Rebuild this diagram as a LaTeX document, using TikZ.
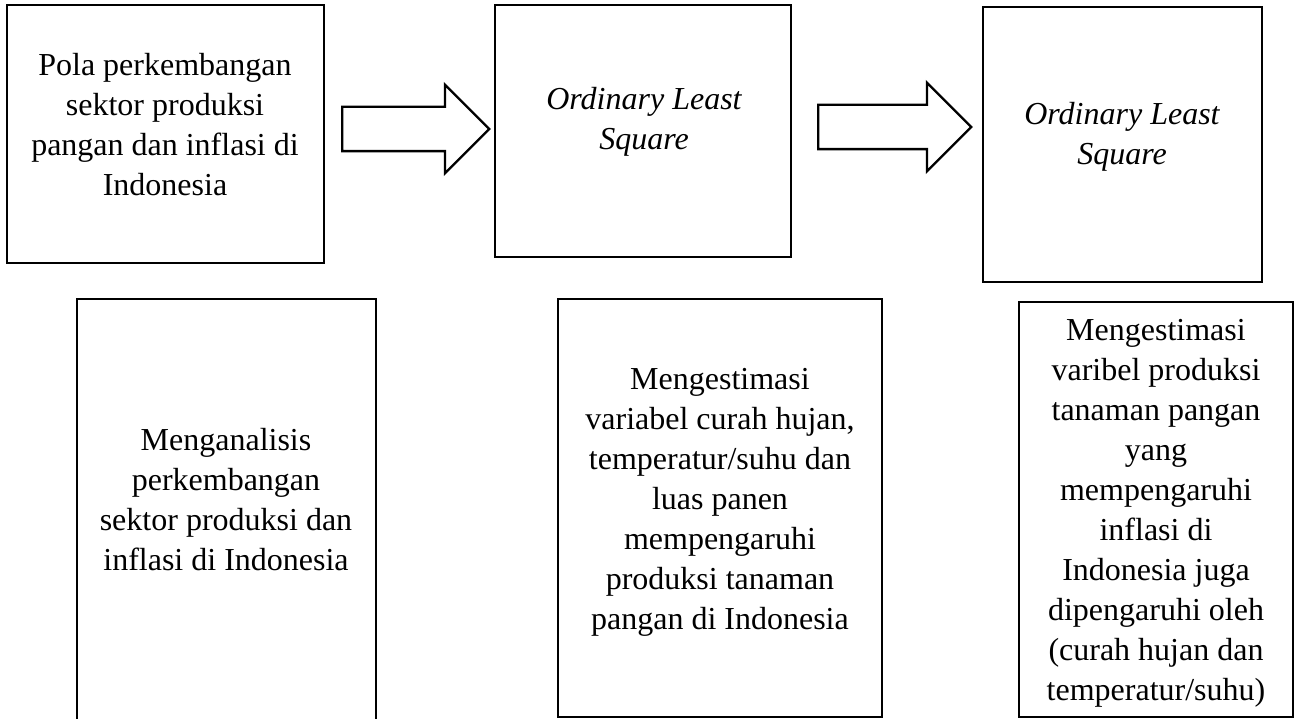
\documentclass[tikz,border=0pt]{standalone}
\usepackage{fontspec}
\setmainfont{Liberation Serif}
\usetikzlibrary{shapes.arrows,positioning}

\begin{document}
\begin{tikzpicture}[
  x=1pt, y=-1pt,
  kotak/.style={draw,line width=2.4pt,inner sep=0pt},
  isi/.style={align=center,inner sep=0pt,font=\fontsize{32}{40}\selectfont},
  panah/.style={draw,line width=2.4pt,single arrow,single arrow head extend=22pt,
    inner xsep=0pt,inner ysep=21pt,anchor=tail}]

\useasboundingbox (0,0) rectangle (1301,719);
\clip (0,0) rectangle (1301,719);

% --- top row: data and methods ---
\node[kotak,minimum width=317pt,minimum height=258pt] (pola) at (165.5,134) {};
\node[isi] (polaT) at (165,125)
  {Pola perkembangan\\sektor produksi\\pangan dan inflasi di\\Indonesia};

\node[kotak,minimum width=296pt,minimum height=252pt] (olsA) at (643,131) {};
\node[isi,font=\fontsize{32}{40}\selectfont\itshape] (olsAT) at (644,122)
  {Ordinary Least\\Square};

\node[kotak,minimum width=279pt,minimum height=275pt] (olsB) at (1122.5,144.5) {};
\node[isi,font=\fontsize{32}{40}\selectfont\itshape] (olsBT) at (1122,137)
  {Ordinary Least\\Square};

% --- block arrows between the top boxes ---
\node[panah,minimum height=147pt] (arrA) at (341,129) {};
\node[panah,minimum height=153pt] (arrB) at (817,127) {};

% --- bottom row: aims ---
\node[kotak,minimum width=299pt,minimum height=460pt] (analisis) at (226.5,529) {};
\node[isi] (analisisT) at (226,500)
  {Menganalisis\\perkembangan\\sektor produksi dan\\inflasi di Indonesia};

\node[kotak,minimum width=324pt,minimum height=418pt] (estimA) at (720,508) {};
\node[isi] (estimAT) at (720,502)
  {Mengestimasi\\variabel curah hujan,\\temperatur/suhu dan\\luas panen\\mempengaruhi\\produksi tanaman\\pangan di Indonesia};

\node[kotak,minimum width=274pt,minimum height=415pt] (estimB) at (1156,509.5) {};
\node[isi] (estimBT) at (1156,513)
  {Mengestimasi\\varibel produksi\\tanaman pangan\\yang\\mempengaruhi\\inflasi di\\Indonesia juga\\dipengaruhi oleh\\(curah hujan dan\\temperatur/suhu)};

\end{tikzpicture}
\end{document}
